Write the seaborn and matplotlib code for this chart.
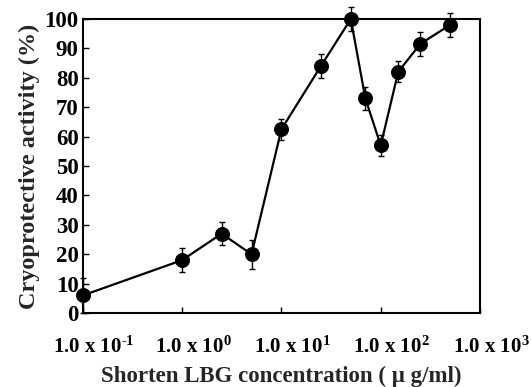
import numpy as np
import pandas as pd
import seaborn as sns
import matplotlib.pyplot as plt
import matplotlib.transforms as mtransforms

# data
conc = [0.1, 1, 2.5, 5, 10, 25, 50, 70, 100, 150, 250, 500]
activity = [6, 18, 27, 20, 62.5, 84, 100, 73, 57, 82, 91.5, 98]
err = [6, 4, 4, 5, 3.5, 4, 4, 4, 3.5, 3.6, 4, 4]
xtick_vals = [0.1, 1, 10, 100, 1000]
xtick_labels = [r"1.0 x 10$^{\text{-1}}$", r"1.0 x 10$^{\text{0}}$", r"1.0 x 10$^{\text{1}}$",
                r"1.0 x 10$^{\text{2}}$", r"1.0 x 10$^{\text{3}}$"]
ytick_vals = list(range(0, 101, 10))

sns.set_theme(style="ticks")
plt.rcParams['font.family'] = ['Liberation Serif', 'DejaVu Serif']
plt.rcParams['font.weight'] = 'bold'
plt.rcParams['mathtext.fontset'] = 'custom'
plt.rcParams['mathtext.rm'] = 'Liberation Serif:bold'
plt.rcParams['mathtext.bf'] = 'Liberation Serif:bold'
plt.rcParams['mathtext.it'] = 'Liberation Serif:bold'

df = pd.DataFrame({"conc": conc, "activity": activity, "err": err})

fig = plt.figure(figsize=(5.31, 3.87), dpi=100)
ax = fig.add_axes([0.156, 0.191, 0.748, 0.760])

ax.errorbar(df["conc"], df["activity"], yerr=df["err"], fmt="none",
            ecolor="black", elinewidth=1, capsize=2.5, capthick=1, clip_on=False, zorder=2)
sns.lineplot(data=df, x="conc", y="activity", ax=ax, color="black", linewidth=1.6,
             marker="o", markersize=10, markerfacecolor="black", markeredgecolor="black",
             clip_on=False, zorder=3)

ax.set_xscale("log")
ax.set_xlim(0.1, 1000)
ax.set_ylim(0, 100)
ax.set_xticks(xtick_vals)
ax.set_xticklabels(xtick_labels)
ax.minorticks_off()
ax.set_yticks(ytick_vals)
ax.tick_params(axis="both", direction="in", length=4, width=1, colors="black")
ax.tick_params(axis="x", pad=17, labelsize=15)
ax.tick_params(axis="y", pad=3, labelsize=16.5)
offset = mtransforms.ScaledTranslation(0.11, 0, fig.dpi_scale_trans)
for lbl in ax.get_xticklabels():
    lbl.set_transform(lbl.get_transform() + offset)

for s in ax.spines.values():
    s.set_linewidth(1.5)
    s.set_color("black")

ax.set_xlabel("Shorten LBG concentration ( \u03bc g/ml)", fontsize=16.5, fontweight="bold", labelpad=6)
ax.set_ylabel("Cryoprotective activity (%)", fontsize=17.5, fontweight="bold", labelpad=3)

fig.savefig("out.png", dpi=100)
